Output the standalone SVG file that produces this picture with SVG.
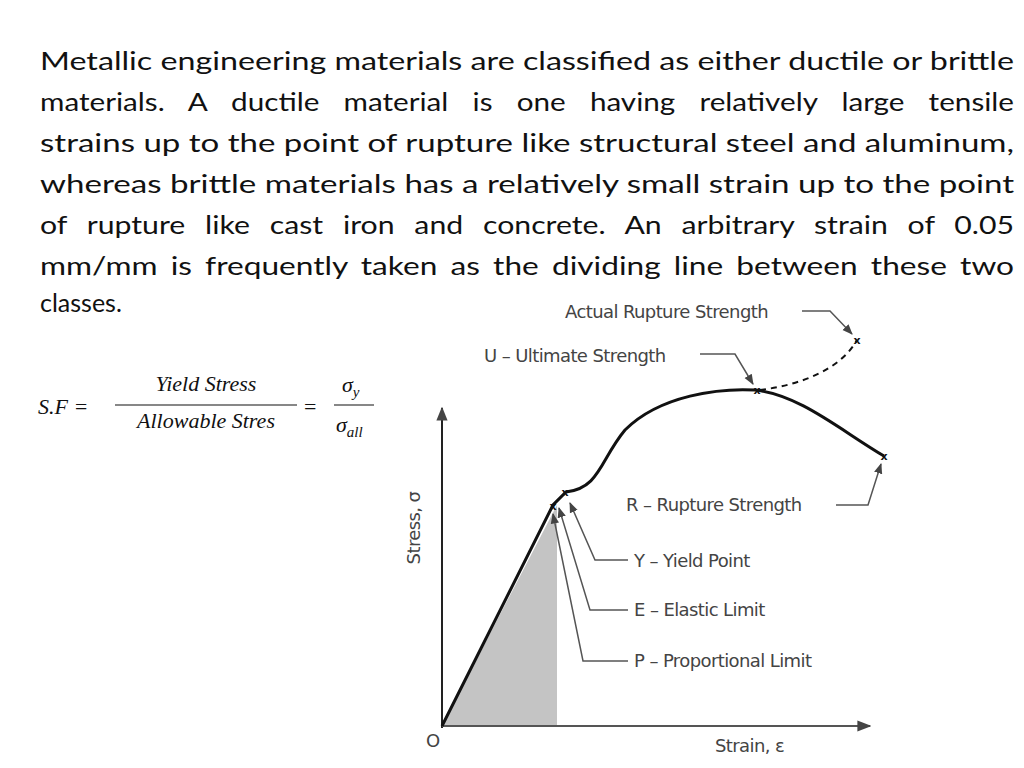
<svg xmlns="http://www.w3.org/2000/svg" width="1024" height="768" viewBox="0 0 1024 768">
<style>
.p{font-family:Lato,"Open Sans",sans-serif;font-size:25px;fill:#111}
.m{font-family:"Liberation Serif",serif;font-style:italic;font-size:22px;fill:#111}
.l{font-family:"DejaVu Sans",sans-serif;font-size:18px;fill:#444;letter-spacing:-0.6px}
.ld{fill:none;stroke:#555;stroke-width:1.5}
</style>
<defs><marker id="a" viewBox="0 0 10 10" refX="9" refY="5" markerWidth="7" markerHeight="7" orient="auto"><path d="M0,1 L10,5 L0,9 z" fill="#444"/></marker></defs>
<rect width="1024" height="768" fill="#fff"/>
<g id="paragraph">
<text class="p" x="40" y="70" textLength="974" lengthAdjust="spacingAndGlyphs">Metallic engineering materials are classified as either ductile or brittle</text>
<text class="p" x="40" y="111" textLength="974" lengthAdjust="spacingAndGlyphs" word-spacing="14">materials. A ductile material is one having relatively large tensile</text>
<text class="p" x="40" y="152" textLength="974" lengthAdjust="spacingAndGlyphs">strains up to the point of rupture like structural steel and aluminum,</text>
<text class="p" x="40" y="193" textLength="974" lengthAdjust="spacingAndGlyphs">whereas brittle materials has a relatively small strain up to the point</text>
<text class="p" x="40" y="234" textLength="974" lengthAdjust="spacingAndGlyphs" word-spacing="10">of rupture like cast iron and concrete. An arbitrary strain of 0.05</text>
<text class="p" x="40" y="275" textLength="974" lengthAdjust="spacingAndGlyphs" word-spacing="4">mm/mm is frequently taken as the dividing line between these two</text>
<text class="p" x="40" y="312">classes.</text>
</g>
<g id="formula">
<text class="m" x="38" y="414">S.F =</text>
<text class="m" x="206" y="391" text-anchor="middle">Yield Stress</text>
<line x1="115" y1="405" x2="297" y2="405" stroke="#111" stroke-width="1.2"/>
<text class="m" x="206" y="428" text-anchor="middle">Allowable Stres</text>
<text class="m" x="304" y="414" style="font-style:normal">=</text>
<text class="m" x="342" y="392">σ<tspan font-size="15" dy="5">y</tspan></text>
<line x1="334" y1="405" x2="374" y2="405" stroke="#111" stroke-width="1.2"/>
<text class="m" x="336" y="432">σ<tspan font-size="15" dy="5">all</tspan></text>
</g>
<g id="chart">
<polygon points="442,726 557,505 557,726" fill="#c4c4c4"/>
<line x1="442" y1="728" x2="442" y2="408" stroke="#222" stroke-width="2" marker-end="url(#a)"/>
<line x1="442" y1="726" x2="870" y2="726" stroke="#555" stroke-width="2" marker-end="url(#a)"/>
<path d="M442,726 L553,505 L566,492 C600,488 600,460 625,430 C660,395 720,388 755,390 C800,395 840,430 884,456" fill="none" stroke="#111" stroke-width="3"/>
<path d="M760,390 C800,385 840,370 857,340" fill="none" stroke="#111" stroke-width="2" stroke-dasharray="6,5"/>
<g font-family="DejaVu Sans,sans-serif" font-size="11" font-weight="bold" fill="#111" text-anchor="middle">
<text x="857" y="344">x</text><text x="757" y="394">x</text><text x="884" y="460">x</text><text x="565" y="496">x</text><text x="553" y="510">x</text>
</g>
<text class="l" x="420" y="528" transform="rotate(-90 420 528)" text-anchor="middle">Stress, σ</text>
<text class="l" x="426" y="747">O</text>
<text class="l" x="715" y="752">Strain, ε</text>
</g>
<g id="labels">
<text class="l" x="565" y="318">Actual Rupture Strength</text>
<text class="l" x="484" y="362">U – Ultimate Strength</text>
<text class="l" x="626" y="511">R – Rupture Strength</text>
<text class="l" x="634" y="567">Y – Yield Point</text>
<text class="l" x="634" y="616">E – Elastic Limit</text>
<text class="l" x="634" y="667">P – Proportional Limit</text>
</g>
<g id="connectors">
<path class="ld" d="M802,311 L830,311 L852,334" marker-end="url(#a)"/>
<path class="ld" d="M700,354 L735,354 L753,384" marker-end="url(#a)"/>
<path class="ld" d="M836,505 L868,505 L881,464" marker-end="url(#a)"/>
<path class="ld" d="M628,560 L595,560 L570,503" marker-end="url(#a)"/>
<path class="ld" d="M628,610 L590,610 L559,508" marker-end="url(#a)"/>
<path class="ld" d="M628,661 L583,661 L553,514" marker-end="url(#a)"/>
</g>
</svg>
